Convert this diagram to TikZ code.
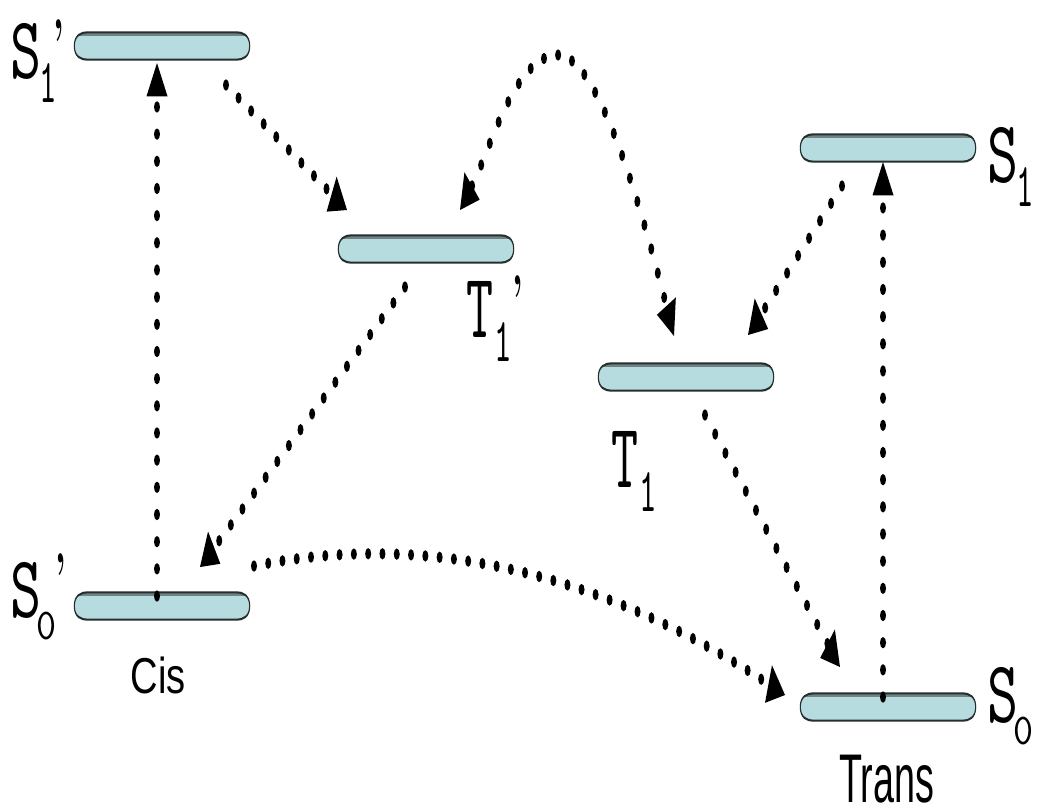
\documentclass[tikz,border=0pt]{standalone}
\usepackage{fontspec}
\usepackage{graphicx}
\usetikzlibrary{arrows.meta}

\newfontfamily\captionsans{Liberation Sans}

\definecolor{barfill}{RGB}{182,220,224}
\definecolor{baredge}{RGB}{38,46,46}
\definecolor{barshade}{RGB}{112,130,130}

% level labels: letter, lowered subscript (sizes given before the vertical stretch)
\newcommand\stateS{\resizebox*{31pt}{29.5pt}{\ttfamily S}}
\newcommand\stateT{\resizebox*{27pt}{29.5pt}{\ttfamily T}}
\newcommand\subone{\raisebox{-12.9pt}{\resizebox*{17.5pt}{20.5pt}{\ttfamily 1}}}
\newcommand\subzero{\raisebox{-11.6pt}{\resizebox*{20pt}{14.7pt}{\ttfamily 0}}}
\newcommand\stateprime{{\fontsize{34}{34}\bfseries\selectfont ’}}

\tikzset{
  level/.style={rectangle, minimum width=175pt, minimum height=14pt, inner sep=0pt},
  barshape/.style={insert path={(#1.west) to[out=90,in=180] ([xshift=13pt]#1.north west)
      -- ([xshift=-13pt]#1.north east) to[out=0,in=90] (#1.east)
      to[out=-90,in=0] ([xshift=-13pt]#1.south east)
      -- ([xshift=13pt]#1.south west) to[out=180,in=-90] (#1.west) -- cycle}},
  glyph/.style={inner sep=0pt, outer sep=0pt},
  statelabel/.style={glyph, anchor=base west},
  flowtip/.tip={Triangle[line width=0pt, length=17.5pt, width=21pt]},
  hop/.style={line width=6pt, line cap=round, dash pattern=on 0pt off 14.3pt, -flowtip},
  hopboth/.style={hop, flowtip-flowtip},
}

\begin{document}
\begin{tikzpicture}
\fill[white] (0,0) rectangle (1038pt,-811pt);
\path[use as bounding box] (0,0) rectangle (1038pt,-811pt);

% everything is laid out in a frame that is stretched vertically by 1.9
\begin{scope}[transform canvas={yscale=1.9}, x=1pt, y={(0pt,-0.526316pt)}]

  % energy levels
  \node[level] (S1p) at (162,46)  {};
  \node[level] (T1p) at (426,249) {};
  \node[level] (T1)  at (686,377) {};
  \node[level] (S1)  at (888,148) {};
  \node[level] (S0p) at (162,606) {};
  \node[level] (S0)  at (888,707) {};

  \foreach \b in {S1p,T1p,T1,S1,S0p,S0}{
    \fill[barfill, barshape=\b];
    \begin{scope}
      \clip[barshape=\b];
      \fill[barshade] (\b.north west) rectangle ([yshift=-1.8pt]\b.north east);
    \end{scope}
    \draw[baredge, line width=1.1pt, barshape=\b];
  }

  % level labels
  \node[statelabel] (S1p-label) at (10.5,78)  {\stateS\hspace{-2.25pt}\subone};
  \node[statelabel] (T1p-label) at (466.5,337) {\stateT\hspace{1.25pt}\subone};
  \node[statelabel] (T1-label)  at (611.5,487) {\stateT\hspace{1.25pt}\subone};
  \node[statelabel] (S1-label)  at (987.5,182) {\stateS\hspace{-2.25pt}\subone};
  \node[statelabel] (S0p-label) at (10.5,617)  {\stateS\hspace{-5.5pt}\subzero};
  \node[statelabel] (S0-label)  at (987.5,722) {\stateS\hspace{-5.5pt}\subzero};

  \node[glyph, anchor=north] (S1p-prime) at (58.5,20) {\stateprime};
  \node[glyph, anchor=north] (T1p-prime) at (518,276) {\stateprime};
  \node[glyph, anchor=north] (S0p-prime) at (61,554)  {\stateprime};

  % isomer captions
  \node[glyph] (cis)   at (158.5,675) {\resizebox*{55pt}{19.5pt}{\captionsans Cis}};
  \node[glyph] (trans) at (886.5,779) {\resizebox*{95pt}{25.3pt}{\captionsans Trans}};

  % absorption
  \draw[hop] ([shift={(-5,-10)}]S0p.center) -- ([shift={(-5,17)}]S1p.center);
  \draw[hop] ([shift={(-5,-10)}]S0.center)  -- ([shift={(-5,14)}]S1.center);

  % intersystem crossing and relaxation
  \draw[hop] ([shift={(64,39)}]S1p.center)  -- ([shift={(-79,-39)}]T1p.center);
  \draw[hop] ([shift={(-21,38)}]T1p.center) -- ([shift={(38,-39)}]S0p.center);
  \draw[hop] ([shift={(-46,38)}]S1.center)  -- ([shift={(62,-42)}]T1.center);
  \draw[hop] ([shift={(19,38)}]T1.center)   -- ([shift={(-48,-40)}]S0.center);

  % triplet interconversion
  \coordinate (arcTop) at (558,55);
  \draw[hopboth] ([shift={(34,-39)}]T1p.center)
      .. controls (490,150) and (515,55) .. (arcTop)
      .. controls (600,55) and (646,226) .. ([shift={(-12,-41)}]T1.center);

  % ground-state isomerisation
  \draw[hop] ([shift={(92,-40)}]S0p.center)
      .. controls (380,540) and (560,545) .. ([shift={(-103,-12)}]S0.center);

\end{scope}
\end{tikzpicture}
\end{document}
